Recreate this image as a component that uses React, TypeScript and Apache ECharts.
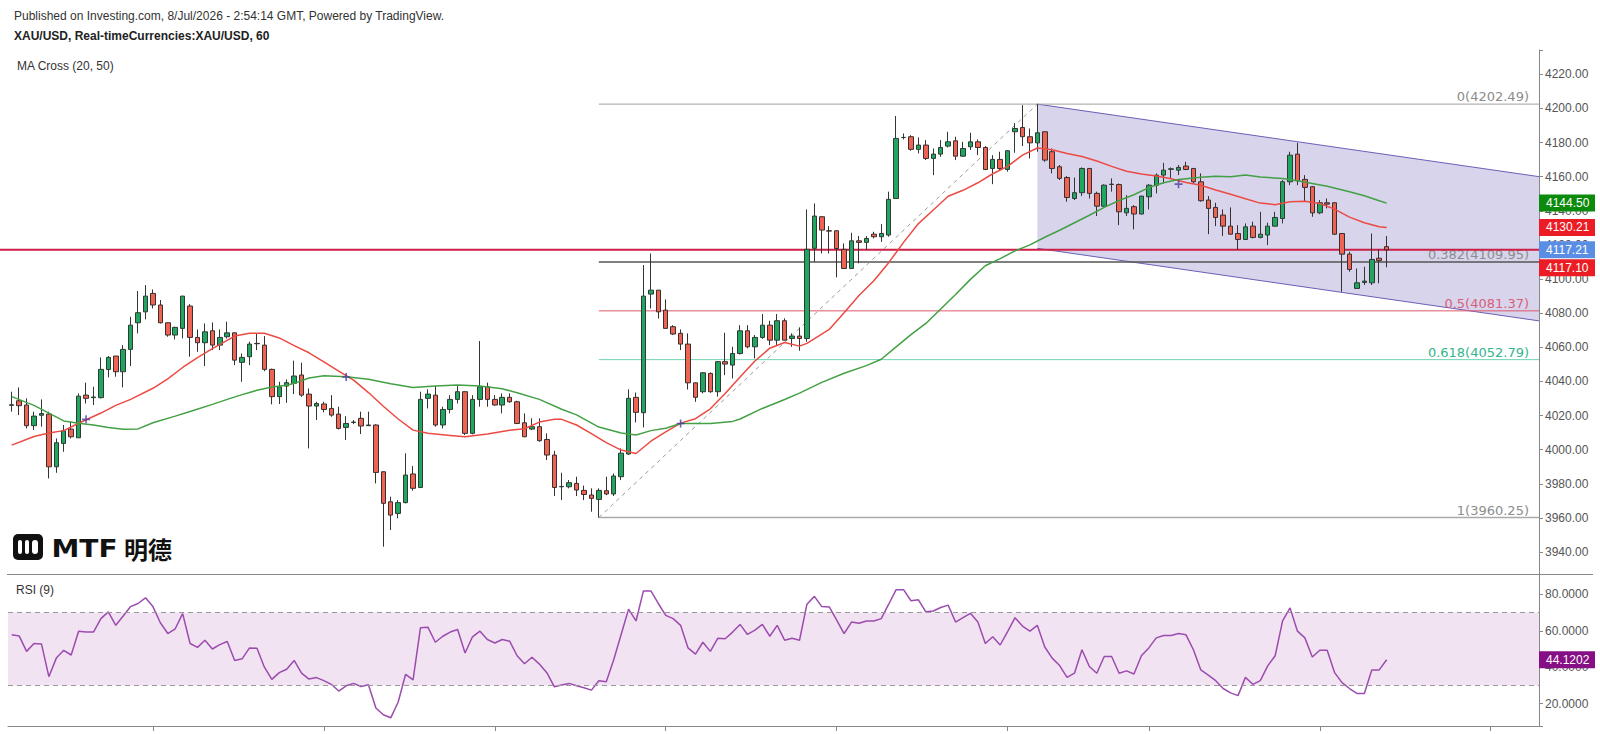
import React, { useEffect, useRef } from "react";
import * as echarts from "echarts";

// ---------- DATA ----------
const headerLine1 = "Published on Investing.com, 8/Jul/2026 - 2:54:14 GMT, Powered by TradingView.";
const headerLine2 = "XAU/USD, Real-timeCurrencies:XAU/USD, 60";
const maTitle = "MA Cross (20, 50)";
const rsiTitle = "RSI (9)";

// hourly candles: [open, high, low, close]
const ohlc: number[][] = [
  [4026.0, 4034.0, 4022.3, 4026.4], [4028.7, 4036.5, 4020.3, 4025.8], [4026.2, 4030.1, 4012.5, 4014.1], [4014.1, 4022.3, 4011.5, 4019.7],
  [4020.2, 4029.5, 4013.5, 4021.2], [4020.9, 4022.3, 3983.2, 3990.0], [3990.0, 4006.6, 3986.5, 4004.1], [4003.7, 4014.5, 3998.8, 4011.1],
  [4012.1, 4016.4, 4006.6, 4007.6], [4007.0, 4033.0, 4007.0, 4031.4], [4032.0, 4039.3, 4027.1, 4030.1], [4030.5, 4036.9, 4026.2, 4030.9],
  [4030.5, 4054.1, 4030.0, 4047.1], [4047.0, 4054.9, 4042.4, 4054.1], [4054.9, 4055.0, 4042.8, 4045.7], [4045.7, 4061.3, 4036.5, 4058.8],
  [4058.8, 4077.9, 4049.0, 4073.0], [4074.4, 4093.0, 4068.2, 4080.3], [4080.8, 4096.5, 4076.4, 4090.0], [4091.6, 4093.9, 4082.8, 4084.8],
  [4084.8, 4087.7, 4074.0, 4074.4], [4074.4, 4074.6, 4066.2, 4067.2], [4067.2, 4072.1, 4064.6, 4071.7], [4071.1, 4090.2, 4065.2, 4090.0],
  [4084.2, 4085.3, 4054.5, 4065.8], [4065.8, 4070.5, 4057.4, 4062.7], [4062.7, 4074.0, 4049.0, 4069.1], [4069.7, 4074.6, 4058.4, 4061.3],
  [4061.3, 4070.5, 4058.4, 4065.8], [4066.2, 4075.0, 4065.2, 4068.5], [4068.5, 4068.8, 4049.6, 4052.5], [4051.2, 4056.4, 4039.8, 4054.1],
  [4054.5, 4063.3, 4049.6, 4061.9], [4062.3, 4068.2, 4058.4, 4062.1], [4061.3, 4066.6, 4046.0, 4047.1], [4047.1, 4047.5, 4026.6, 4031.1],
  [4031.1, 4039.8, 4026.8, 4036.9], [4037.3, 4041.2, 4027.5, 4039.3], [4038.9, 4052.2, 4032.6, 4043.2], [4043.8, 4051.0, 4031.0, 4032.0],
  [4032.6, 4035.9, 4000.8, 4025.6], [4025.6, 4028.1, 4017.4, 4027.1], [4026.8, 4028.1, 4021.9, 4023.6], [4024.2, 4032.0, 4019.3, 4020.3],
  [4020.9, 4025.2, 4011.9, 4012.5], [4013.1, 4019.7, 4005.7, 4015.4], [4016.0, 4017.4, 4015.0, 4016.2], [4018.4, 4022.3, 4009.2, 4013.9],
  [4014.5, 4022.3, 4013.9, 4014.1], [4014.5, 4014.9, 3980.3, 3986.7], [3987.1, 3987.3, 3943.2, 3968.6], [3969.5, 3972.5, 3953.0, 3961.7],
  [3962.7, 3970.5, 3959.8, 3969.0], [3969.0, 3997.9, 3968.6, 3985.2], [3985.8, 3990.4, 3976.0, 3977.4], [3977.9, 4034.0, 3977.5, 4029.5],
  [4030.1, 4035.4, 4024.2, 4032.6], [4032.0, 4037.3, 4013.5, 4014.5], [4014.5, 4025.2, 4012.5, 4023.6], [4023.6, 4032.0, 4021.3, 4029.5],
  [4029.5, 4037.3, 4027.1, 4034.0], [4034.0, 4034.2, 4008.6, 4009.6], [4009.6, 4032.0, 4009.0, 4029.5], [4029.5, 4063.7, 4025.2, 4036.9],
  [4036.9, 4039.3, 4025.2, 4029.5], [4029.5, 4032.0, 4025.8, 4026.2], [4026.2, 4033.0, 4021.3, 4030.7], [4030.7, 4033.0, 4027.5, 4028.1],
  [4028.1, 4028.7, 4015.0, 4015.4], [4015.8, 4021.3, 4007.4, 4007.6], [4012.1, 4018.4, 4011.5, 4013.5], [4013.5, 4018.4, 4004.7, 4005.3],
  [4006.0, 4009.6, 3994.0, 3996.9], [3996.9, 3999.4, 3972.9, 3977.9], [3978.3, 3986.5, 3970.5, 3978.5], [3978.3, 3982.2, 3977.4, 3980.7],
  [3980.3, 3984.2, 3972.9, 3976.4], [3976.2, 3979.0, 3970.5, 3973.8], [3973.5, 3977.4, 3963.7, 3971.5], [3970.9, 3977.4, 3960.25, 3976.2],
  [3976.0, 3984.2, 3973.4, 3974.1], [3974.1, 3986.1, 3972.9, 3984.6], [3984.2, 4000.8, 3982.2, 3998.0], [3997.5, 4035.4, 3997.0, 4030.1],
  [4030.7, 4033.5, 4016.0, 4021.9], [4021.7, 4108.2, 4013.1, 4090.0], [4091.2, 4115.0, 4082.8, 4093.5], [4093.5, 4093.6, 4076.9, 4080.8],
  [4081.8, 4088.1, 4071.0, 4071.1], [4072.1, 4073.0, 4067.2, 4067.8], [4068.2, 4070.5, 4058.4, 4061.9], [4061.9, 4068.2, 4035.3, 4039.2],
  [4039.2, 4039.5, 4028.1, 4030.7], [4034.0, 4045.5, 4033.0, 4045.1], [4044.7, 4045.3, 4033.4, 4034.0], [4034.0, 4052.0, 4031.1, 4051.6],
  [4051.6, 4068.5, 4043.7, 4050.2], [4049.6, 4060.3, 4041.8, 4056.4], [4056.4, 4073.0, 4055.8, 4069.7], [4069.7, 4073.0, 4059.4, 4060.3],
  [4060.3, 4067.2, 4053.5, 4065.8], [4065.8, 4079.5, 4065.0, 4073.0], [4073.0, 4075.6, 4061.3, 4064.2], [4064.2, 4079.5, 4061.3, 4075.6],
  [4075.6, 4077.0, 4064.0, 4064.2], [4065.2, 4068.2, 4060.3, 4066.6], [4066.6, 4071.7, 4058.0, 4065.2], [4065.2, 4140.8, 4063.3, 4117.4],
  [4118.0, 4144.3, 4110.1, 4136.9], [4136.5, 4136.9, 4115.0, 4128.7], [4128.3, 4131.0, 4115.0, 4128.1], [4128.3, 4128.5, 4101.0, 4117.9],
  [4117.4, 4120.9, 4106.0, 4106.2], [4106.2, 4127.1, 4106.0, 4122.4], [4122.4, 4125.2, 4109.2, 4121.5], [4121.5, 4125.2, 4117.0, 4123.8],
  [4126.3, 4127.7, 4123.8, 4124.8], [4124.8, 4132.2, 4121.8, 4126.7], [4125.8, 4151.2, 4124.8, 4146.7], [4147.2, 4195.5, 4147.0, 4182.4],
  [4182.9, 4185.3, 4181.8, 4183.0], [4183.4, 4184.3, 4175.2, 4176.0], [4176.0, 4183.0, 4173.6, 4178.5], [4178.5, 4181.4, 4169.7, 4170.7],
  [4170.7, 4176.5, 4160.9, 4173.2], [4173.2, 4181.4, 4171.6, 4177.1], [4177.9, 4186.3, 4177.1, 4180.4], [4181.0, 4183.4, 4169.7, 4172.0],
  [4172.0, 4180.4, 4171.6, 4176.5], [4177.5, 4185.7, 4175.6, 4180.4], [4180.4, 4181.8, 4172.6, 4177.1], [4177.1, 4177.9, 4163.8, 4164.2],
  [4164.8, 4172.6, 4155.6, 4170.1], [4170.1, 4174.6, 4163.8, 4164.8], [4164.2, 4175.6, 4162.9, 4175.2], [4186.3, 4191.4, 4174.0, 4188.2],
  [4188.8, 4201.9, 4177.9, 4183.4], [4183.4, 4188.2, 4170.7, 4179.8], [4179.8, 4202.49, 4174.6, 4185.7], [4186.3, 4186.5, 4168.7, 4169.7],
  [4174.6, 4176.5, 4161.9, 4164.8], [4165.8, 4166.8, 4158.0, 4159.0], [4159.5, 4160.3, 4145.3, 4147.8], [4147.2, 4159.5, 4146.3, 4150.6],
  [4150.6, 4165.4, 4148.6, 4164.8], [4164.8, 4165.0, 4147.2, 4150.2], [4150.2, 4151.2, 4136.9, 4142.7], [4142.7, 4155.5, 4142.5, 4155.0],
  [4155.4, 4159.0, 4151.2, 4155.6], [4155.4, 4156.0, 4131.6, 4139.4], [4138.8, 4149.2, 4136.9, 4141.4], [4142.4, 4143.3, 4129.1, 4138.1],
  [4138.1, 4148.8, 4137.9, 4148.6], [4148.2, 4155.6, 4140.8, 4155.0], [4155.0, 4161.9, 4150.2, 4160.9], [4160.9, 4168.1, 4156.0, 4163.8],
  [4164.3, 4165.4, 4159.0, 4164.6], [4163.8, 4166.8, 4160.9, 4165.4], [4166.2, 4168.7, 4163.8, 4164.2], [4164.8, 4165.0, 4156.0, 4157.0],
  [4157.0, 4161.9, 4145.3, 4145.9], [4146.3, 4148.6, 4126.3, 4141.4], [4142.0, 4144.7, 4131.0, 4136.1], [4137.5, 4140.8, 4125.2, 4131.0],
  [4131.0, 4142.0, 4126.0, 4126.3], [4126.7, 4131.6, 4117.0, 4123.2], [4123.2, 4132.6, 4123.0, 4130.6], [4131.0, 4133.6, 4123.8, 4124.4],
  [4124.4, 4139.4, 4123.8, 4126.3], [4125.8, 4133.0, 4119.9, 4131.0], [4131.0, 4139.4, 4131.0, 4136.1], [4135.5, 4158.0, 4132.6, 4157.0],
  [4157.0, 4174.6, 4155.0, 4172.6], [4173.2, 4179.8, 4155.0, 4157.6], [4158.4, 4160.9, 4145.3, 4153.7], [4154.1, 4154.5, 4136.5, 4138.8],
  [4138.8, 4146.3, 4138.0, 4144.7], [4144.7, 4147.2, 4141.4, 4143.9], [4144.7, 4145.0, 4125.8, 4126.3], [4126.7, 4126.9, 4092.6, 4114.6],
  [4114.6, 4116.0, 4104.3, 4105.6], [4094.5, 4106.2, 4094.3, 4097.8], [4098.0, 4107.2, 4096.5, 4098.8], [4097.8, 4126.7, 4096.5, 4111.5],
  [4112.2, 4117.4, 4097.5, 4110.8], [4119.0, 4125.2, 4106.9, 4117.1],
];

// MA(20) at candle indices: [index, value]
const ma20Points: number[][] = [
  [0, 4002.7], [3, 4007.8], [5, 4009.8], [7, 4011.2], [9, 4015.5], [12, 4021.5], [14, 4026.0], [16, 4029.5], [19, 4036.0],
  [21, 4041.5], [23, 4048.2], [25, 4054.0], [27, 4059.2], [30, 4066.6], [32, 4068.2], [34, 4068.2], [36, 4065.5], [38, 4061.0],
  [40, 4056.8], [42, 4051.5], [44, 4046.0], [46, 4040.8], [48, 4033.5], [50, 4025.5], [52, 4018.0], [54, 4011.5], [56, 4009.6],
  [59, 4008.4], [61, 4007.6], [64, 4009.2], [67, 4011.4], [69, 4012.3], [71, 4016.2], [73, 4017.8], [74, 4017.8], [76, 4014.5],
  [78, 4009.4], [80, 4004.2], [82, 3999.8], [84, 3997.8], [86, 4005.0], [88, 4010.5], [90, 4015.6], [92, 4018.2], [94, 4024.0],
  [96, 4033.0], [98, 4042.6], [100, 4052.0], [102, 4059.5], [104, 4062.8], [106, 4060.7], [107, 4062.3], [110, 4070.5],
  [112, 4080.3], [114, 4090.4], [116, 4099.0], [118, 4109.6], [120, 4121.5], [122, 4132.5], [124, 4140.5], [126, 4148.5],
  [128, 4152.0], [130, 4156.4], [132, 4161.7], [134, 4166.0], [136, 4172.6], [138, 4176.8], [140, 4175.8], [142, 4173.6],
  [144, 4171.8], [146, 4169.2], [148, 4166.0], [150, 4163.2], [152, 4161.5], [154, 4160.4], [156, 4158.8], [158, 4156.6],
  [160, 4155.0], [162, 4152.2], [164, 4149.7], [166, 4147.0], [168, 4144.5], [170, 4143.6], [172, 4145.3], [174, 4145.6],
  [176, 4144.3], [178, 4141.0], [180, 4136.3], [182, 4133.0], [184, 4130.6], [185, 4130.21],
];

// MA(50): [index, value]
const ma50Points: number[][] = [
  [0, 4031.1], [3, 4026.0], [5, 4021.5], [7, 4016.9], [9, 4015.5], [11, 4014.5], [13, 4013.0], [15, 4012.0], [17, 4012.2],
  [19, 4015.8], [22, 4019.7], [24, 4022.4], [27, 4026.6], [29, 4029.5], [31, 4032.3], [33, 4034.8], [35, 4036.8], [37, 4037.8],
  [38, 4038.9], [40, 4042.0], [42, 4043.3], [45, 4042.8], [48, 4041.3], [51, 4038.6], [54, 4036.5], [57, 4037.4], [60, 4037.9],
  [63, 4037.3], [66, 4035.7], [68, 4033.4], [71, 4029.5], [74, 4023.7], [76, 4020.4], [79, 4013.3], [82, 4009.8], [84, 4008.6],
  [86, 4011.2], [88, 4012.6], [90, 4015.4], [94, 4015.4], [97, 4016.6], [98, 4018.0], [101, 4024.2], [104, 4029.4], [106, 4033.2],
  [109, 4039.5], [112, 4044.8], [115, 4049.3], [117, 4053.0], [119, 4060.3], [121, 4067.4], [123, 4074.0], [125, 4082.5],
  [127, 4091.0], [129, 4099.8], [131, 4107.8], [133, 4112.0], [135, 4116.5], [137, 4120.0], [139, 4124.5], [141, 4128.6],
  [143, 4133.0], [145, 4137.4], [147, 4142.0], [149, 4146.0], [151, 4149.4], [153, 4153.6], [155, 4156.4], [157, 4158.3],
  [160, 4159.6], [162, 4160.3], [164, 4159.9], [166, 4160.9], [168, 4159.8], [171, 4158.9], [173, 4157.6], [175, 4156.0],
  [177, 4154.4], [180, 4151.2], [182, 4148.8], [184, 4145.9], [185, 4144.5],
];

// MA cross markers: [index, price]
const crossPoints: number[][] = [[10, 4017.8], [45, 4042.6], [90, 4015.4], [157, 4155.6]];

// RSI(9), one value per candle
const rsiValues: number[] = [
  57.8, 57.2, 48.7, 53.0, 52.8, 34.8, 45.0, 49.3, 46.7, 59.8,
  59.3, 59.3, 66.7, 70.4, 63.0, 68.1, 73.3, 75.0, 78.1, 73.3,
  64.4, 58.5, 61.1, 69.4, 53.0, 50.9, 54.8, 50.0, 52.4, 54.1,
  43.7, 44.6, 50.6, 50.4, 40.0, 33.3, 37.0, 38.9, 43.7, 36.7,
  33.5, 34.3, 32.6, 30.6, 26.9, 29.8, 31.1, 29.4, 30.4, 17.6,
  13.9, 12.2, 20.9, 36.1, 33.0, 61.7, 62.0, 53.7, 57.0, 59.3,
  60.7, 47.8, 56.7, 59.8, 55.2, 53.3, 55.2, 54.3, 46.3, 41.9,
  45.5, 41.7, 37.0, 29.3, 30.2, 31.1, 29.8, 28.7, 27.4, 32.6,
  32.0, 44.1, 58.0, 71.9, 65.4, 81.9, 81.9, 75.0, 68.5, 66.7,
  63.0, 50.6, 47.2, 53.7, 48.7, 55.9, 55.6, 59.3, 63.5, 58.0,
  60.4, 63.5, 57.0, 63.0, 54.8, 55.9, 54.8, 74.6, 78.9, 73.3,
  73.1, 65.9, 58.5, 64.8, 64.1, 65.4, 65.4, 66.7, 74.6, 82.6,
  82.6, 76.5, 77.0, 70.4, 70.9, 72.8, 74.1, 64.8, 67.2, 69.6,
  64.8, 53.0, 56.7, 52.2, 59.6, 67.2, 62.6, 59.8, 63.0, 51.1,
  45.0, 40.9, 34.4, 36.7, 49.6, 40.4, 36.7, 45.9, 45.9, 36.7,
  38.0, 36.3, 46.3, 50.6, 56.1, 57.4, 57.4, 58.5, 57.8, 49.6,
  38.5, 35.7, 32.6, 28.3, 25.9, 24.4, 34.4, 30.6, 32.6, 40.7,
  46.3, 65.4, 72.6, 59.8, 56.1, 45.6, 49.3, 49.3, 37.0, 31.5,
  28.3, 25.6, 25.6, 38.5, 38.5, 44.1202,
];
const rsiUpper = 70;
const rsiLower = 30;

// Fibonacci retracement drawn from the swing low to the swing high
const fibStartIndex = 79;
const fibEndIndex = 138;
const fibRatios = ["0", "0.382", "0.5", "0.618", "1"];
const fibPrices = [4202.49, 4109.95, 4081.37, 4052.79, 3960.25];

// descending channel: prices at its start candle and at the right edge of the plot
const channelStartIndex = 138;
const channelUpper = [4202.49, 4160.0];
const channelLower = [4118.0, 4075.5];

// price line and right-axis tags
const priceLine = 4117.21;
const tagValues = [4144.5, 4130.21, 4117.21, 4117.1];
const tagKinds = ["ma50", "ma20", "bid", "last"];
const rsiLast = 44.1202;

// axes
const categoryCount = 206;
const priceMin = 3927.2;
const priceMax = 4234.2;
const priceStep = 20;
const rsiMin = 7.7;
const rsiMax = 91.2;
const rsiStep = 20;
const dayTickIndices = [19, 42, 65, 88, 111, 134, 153, 176, 199];

// ---------- STYLES ----------
const FONT = '"Liberation Sans", Arial, sans-serif';
const FIB_FONT = '"DejaVu Sans", Verdana, sans-serif';
const fibLineColors = ["#a0a0a0", "#555555", "#e0566a", "#6fd3b3", "#aaaaaa"];
const fibLineWidths = [1, 1.5, 1, 1, 1.5];
const fibTextColors = ["#8c8c8c", "#8c8c8c", "#d9607a", "#33b58c", "#8c8c8c"];
const tagColors: Record<string, string> = {
  ma50: "#0b8a0b",
  ma20: "#ec1c24",
  bid: "#5a8de4",
  last: "#ec1c24",
  rsi: "#860f86",
};
const TAG_W = 56;
const TAG_H = 17;

const categories = Array.from({ length: categoryCount }, (_, i) => String(i));

function tagShape(x: number, y: number, text: string, color: string) {
  return {
    type: "group",
    children: [
      { type: "rect", shape: { x, y: y - TAG_H / 2, width: TAG_W, height: TAG_H }, style: { fill: color } },
      {
        type: "text",
        x: x + 7,
        y,
        style: { text, fill: "#ffffff", font: `12px ${FONT}`, align: "left", verticalAlign: "middle" },
      },
    ],
  };
}

function buildOption(): any {
  const candleData = ohlc.map(([o, h, l, c]) => [o, c, l, h]);

  return {
    animation: false,
    backgroundColor: "#ffffff",
    grid: [
      { left: 8, top: 50, width: 1531, height: 524 },
      { left: 8, top: 574, width: 1531, height: 152 },
    ],
    xAxis: [
      {
        type: "category",
        gridIndex: 0,
        data: categories,
        boundaryGap: true,
        show: false,
      },
      {
        type: "category",
        gridIndex: 1,
        data: categories,
        boundaryGap: true,
        axisLine: { show: true, lineStyle: { color: "#888888", width: 1 } },
        axisTick: {
          show: true,
          alignWithLabel: true,
          length: 5,
          interval: (idx: number) => dayTickIndices.includes(idx),
          lineStyle: { color: "#888888" },
        },
        axisLabel: { show: false },
        splitLine: { show: false },
      },
    ],
    yAxis: [
      {
        type: "value",
        gridIndex: 0,
        position: "right",
        min: priceMin,
        max: priceMax,
        splitNumber: 15,
        axisLine: { show: true, lineStyle: { color: "#888888" } },
        axisTick: { show: true, length: 4, lineStyle: { color: "#888888" } },
        axisLabel: {
          color: "#555555",
          fontSize: 12,
          fontFamily: FONT,
          margin: 6,
          formatter: (v: number) =>
            Math.abs(v / priceStep - Math.round(v / priceStep)) < 1e-6 ? v.toFixed(2) : "",
        },
        splitLine: { show: false },
      },
      {
        type: "value",
        gridIndex: 1,
        position: "right",
        min: rsiMin,
        max: rsiMax,
        splitNumber: 4,
        axisLine: { show: true, lineStyle: { color: "#888888" } },
        axisTick: { show: true, length: 4, lineStyle: { color: "#888888" } },
        axisLabel: {
          color: "#555555",
          fontSize: 12,
          fontFamily: FONT,
          margin: 6,
          formatter: (v: number) =>
            Math.abs(v / rsiStep - Math.round(v / rsiStep)) < 1e-6 ? v.toFixed(4) : "",
        },
        splitLine: { show: false },
      },
    ],
    graphic: [
      {
        type: "text",
        x: 14,
        y: 16,
        style: { text: headerLine1, fill: "#333333", font: `12px ${FONT}`, verticalAlign: "middle" },
      },
      {
        type: "text",
        x: 14,
        y: 36,
        style: { text: headerLine2, fill: "#222222", font: `bold 12px ${FONT}`, verticalAlign: "middle" },
      },
      {
        type: "text",
        x: 17,
        y: 65.5,
        style: { text: maTitle, fill: "#333333", font: `12px ${FONT}`, verticalAlign: "middle" },
      },
      {
        type: "text",
        x: 16,
        y: 590,
        style: { text: rsiTitle, fill: "#333333", font: `12px ${FONT}`, verticalAlign: "middle" },
      },
      {
        type: "line",
        shape: { x1: 7, y1: 574.5, x2: 1593, y2: 574.5 },
        style: { stroke: "#888888", lineWidth: 1 },
      },
      {
        type: "group",
        children: [
          { type: "rect", shape: { x: 13, y: 534, width: 30, height: 26, r: 5 }, style: { fill: "#111111" } },
          { type: "rect", shape: { x: 18, y: 540, width: 4, height: 14, r: 2 }, style: { fill: "#ffffff" } },
          { type: "rect", shape: { x: 25, y: 540, width: 4, height: 14, r: 2 }, style: { fill: "#ffffff" } },
          { type: "rect", shape: { x: 32, y: 540, width: 6, height: 14, r: 3 }, style: { fill: "#ffffff" } },
          {
            type: "text",
            x: 51.5,
            y: 548,
            scaleX: 1.12,
            style: { text: "MTF", fill: "#111111", font: 'bold 25px "DejaVu Sans"', verticalAlign: "middle" },
          },
          {
            type: "text",
            x: 124,
            y: 548,
            style: { text: "明德", fill: "#111111", font: 'bold 24px "Noto Sans CJK SC"', verticalAlign: "middle" },
          },
        ],
      },
    ],
    series: [
      // descending channel
      {
        type: "custom",
        name: "channel",
        xAxisIndex: 0,
        yAxisIndex: 0,
        z: 1,
        silent: true,
        data: [[channelStartIndex, channelUpper[0]]],
        encode: { x: 0, y: 1 },
        renderItem: (params: any, api: any) => {
          const cs = params.coordSys;
          const right = cs.x + cs.width;
          const [xl, yu0] = api.coord([channelStartIndex, channelUpper[0]]);
          const yu1 = api.coord([channelStartIndex, channelUpper[1]])[1];
          const yl0 = api.coord([channelStartIndex, channelLower[0]])[1];
          const yl1 = api.coord([channelStartIndex, channelLower[1]])[1];
          return {
            type: "group",
            children: [
              {
                type: "polygon",
                shape: { points: [[xl, yu0], [right, yu1], [right, yl1], [xl, yl0]] },
                style: { fill: "rgba(112,100,186,0.28)" },
              },
              { type: "line", shape: { x1: xl, y1: yu0, x2: right, y2: yu1 }, style: { stroke: "#6b5fb6", lineWidth: 1 } },
              { type: "line", shape: { x1: xl, y1: yl0, x2: right, y2: yl1 }, style: { stroke: "#6b5fb6", lineWidth: 1 } },
            ],
          };
        },
      },
      // fibonacci levels
      {
        type: "custom",
        name: "fib",
        xAxisIndex: 0,
        yAxisIndex: 0,
        z: 2,
        silent: true,
        data: fibPrices.map((p) => [fibStartIndex, p]),
        encode: { x: 0, y: 1 },
        renderItem: (params: any, api: any) => {
          const i = params.dataIndex;
          const cs = params.coordSys;
          const right = cs.x + cs.width;
          const [x1, y] = api.coord([fibStartIndex, fibPrices[i]]);
          return {
            type: "group",
            children: [
              {
                type: "line",
                shape: { x1, y1: y, x2: right, y2: y },
                style: { stroke: fibLineColors[i], lineWidth: fibLineWidths[i] },
              },
              {
                type: "text",
                x: right - 10,
                y: y - 1,
                style: {
                  text: `${fibRatios[i]}(${fibPrices[i].toFixed(2)})`,
                  fill: fibTextColors[i],
                  font: `13px ${FIB_FONT}`,
                  align: "right",
                  verticalAlign: "bottom",
                },
              },
            ],
          };
        },
      },
      // fib trend line
      {
        type: "line",
        name: "fibTrend",
        xAxisIndex: 0,
        yAxisIndex: 0,
        z: 2,
        silent: true,
        symbol: "none",
        data: [
          [fibStartIndex, fibPrices[4]],
          [fibEndIndex, fibPrices[0]],
        ],
        lineStyle: { color: "#9a9a9a", width: 1, type: [4, 4] },
      },
      // horizontal price line
      {
        type: "custom",
        name: "priceLine",
        xAxisIndex: 0,
        yAxisIndex: 0,
        z: 2,
        silent: true,
        clip: false,
        data: [[0, priceLine]],
        encode: { x: 0, y: 1 },
        renderItem: (params: any, api: any) => {
          const cs = params.coordSys;
          const y = api.coord([0, priceLine])[1];
          return {
            type: "line",
            shape: { x1: cs.x - 8, y1: y, x2: cs.x + cs.width, y2: y },
            style: { stroke: "#cc1f45", lineWidth: 2 },
          };
        },
      },
      // candles
      {
        type: "candlestick",
        name: "XAU/USD",
        xAxisIndex: 0,
        yAxisIndex: 0,
        z: 3,
        barWidth: 5,
        data: candleData,
        itemStyle: {
          color: "#21a661",
          color0: "#ef6352",
          borderColor: "#2f3a33",
          borderColor0: "#3a2f2f",
          borderWidth: 1,
        },
      },
      {
        type: "line",
        name: "MA20",
        xAxisIndex: 0,
        yAxisIndex: 0,
        z: 4,
        symbol: "none",
        data: ma20Points,
        lineStyle: { color: "#ec4a43", width: 1.5 },
      },
      {
        type: "line",
        name: "MA50",
        xAxisIndex: 0,
        yAxisIndex: 0,
        z: 4,
        symbol: "none",
        data: ma50Points,
        lineStyle: { color: "#44a045", width: 1.5 },
      },
      {
        type: "scatter",
        name: "cross",
        xAxisIndex: 0,
        yAxisIndex: 0,
        z: 5,
        symbol: "path://M4 0H6V4H10V6H6V10H4V6H0V4H4Z",
        symbolSize: 8,
        data: crossPoints,
        itemStyle: { color: "#4b3a9e" },
      },
      // price tags on the right axis
      {
        type: "custom",
        name: "tags",
        xAxisIndex: 0,
        yAxisIndex: 0,
        z: 10,
        silent: true,
        clip: false,
        data: tagValues.map((v) => [0, v]),
        encode: { x: 0, y: 1 },
        renderItem: (params: any, api: any) => {
          const cs = params.coordSys;
          const ys = tagValues.map((v) => api.coord([0, v])[1]);
          const order = ys.map((_, k) => k).sort((a, b) => ys[a] - ys[b]);
          const placed = ys.slice();
          let prev = -Infinity;
          for (const k of order) {
            placed[k] = Math.max(ys[k], prev + TAG_H + 1);
            prev = placed[k];
          }
          const i = params.dataIndex;
          return tagShape(cs.x + cs.width, placed[i], tagValues[i].toFixed(2), tagColors[tagKinds[i]]);
        },
      },
      // RSI
      {
        type: "line",
        name: "RSI",
        xAxisIndex: 1,
        yAxisIndex: 1,
        z: 3,
        symbol: "none",
        data: rsiValues,
        lineStyle: { color: "#9c4cae", width: 1.5 },
        markArea: {
          silent: true,
          itemStyle: { color: "#f2e3f2" },
          data: [[{ yAxis: rsiLower }, { yAxis: rsiUpper }]],
        },
        markLine: {
          silent: true,
          symbol: "none",
          label: { show: false },
          lineStyle: { color: "#999999", type: [5, 4], width: 1 },
          data: [{ yAxis: rsiUpper }, { yAxis: rsiLower }],
        },
      },
      {
        type: "custom",
        name: "rsiTag",
        xAxisIndex: 1,
        yAxisIndex: 1,
        z: 10,
        silent: true,
        clip: false,
        data: [[0, rsiLast]],
        encode: { x: 0, y: 1 },
        renderItem: (params: any, api: any) => {
          const cs = params.coordSys;
          const y = api.coord([0, rsiLast])[1];
          return tagShape(cs.x + cs.width, y, rsiLast.toFixed(4), tagColors.rsi);
        },
      },
    ],
  };
}

export default function App() {
  const ref = useRef<HTMLDivElement>(null);
  useEffect(() => {
    if (!ref.current) return;
    const chart = echarts.init(ref.current, undefined, { renderer: "svg" });
    chart.setOption(buildOption());
    return () => chart.dispose();
  }, []);
  return (
    <div
      ref={ref}
      style={{ position: "fixed", left: 0, top: 0, width: 1600, height: 734, background: "#ffffff" }}
    />
  );
}
